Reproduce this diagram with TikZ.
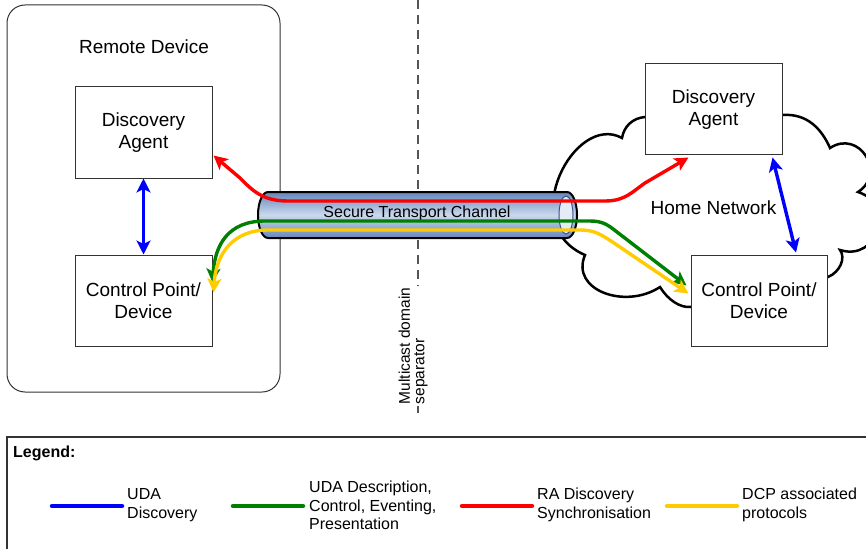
\documentclass[tikz,border=0pt]{standalone}
\usepackage{fontspec}
\setmainfont{Liberation Sans}
\usetikzlibrary{arrows.meta,calc}
\definecolor{pipedark}{HTML}{6586BC}
\definecolor{pipelight}{HTML}{CAD9EC}
\definecolor{pipeinner}{HTML}{E4ECF6}
\definecolor{pipeedge}{HTML}{3D4E8C}
\definecolor{udablue}{HTML}{0000FF}
\definecolor{udagreen}{HTML}{008000}
\definecolor{rared}{HTML}{FF0000}
\definecolor{dcpyellow}{HTML}{FFCC00}
\definecolor{edgegray}{HTML}{333333}
\definecolor{dashgray}{HTML}{555555}
\begin{document}
\begin{tikzpicture}[x=1pt,y=-1pt,
  boxnode/.style={draw=edgegray, line width=1pt, fill=white, minimum width=137pt, minimum height=91pt, align=center, font=\fontsize{19}{22.5}\selectfont, inner sep=0pt},
  lbl/.style={font=\fontsize{19}{22.5}\selectfont, inner sep=0pt},
  flow/.style={line width=3.4pt, {Stealth[length=14pt,width=14pt,inset=3.5pt]}-{Stealth[length=14pt,width=14pt,inset=3.5pt]}},
  legline/.style={line width=4.5pt, line cap=round},
  legtext/.style={font=\fontsize{16}{18.5}\selectfont, align=left, anchor=west, inner sep=0pt}
]
\useasboundingbox (0,0) rectangle (866,548);
\clip (0,0) rectangle (866,548);

% remote device container
\node[draw=edgegray, line width=1pt, rounded corners=18pt, minimum width=273pt, minimum height=387pt, inner sep=0pt] (rd) at (143.5,198.5) {};
\node[lbl] (rdlabel) at (144,47) {Remote Device};

% legend frame
\node[draw=edgegray, line width=1.3pt, minimum width=873pt, minimum height=133pt, inner sep=0pt] (legend) at (443.5,503.5) {};

% multicast separator
\draw[dashgray, line width=1.3pt, dash pattern=on 9pt off 6pt] (418,0) -- (418,413);

% home network cloud
\draw[line width=2.5pt, fill=white] (645,117) .. controls (633,118) and (624,126) .. (622,138)
 .. controls (575,112) and (515,225) .. (585,255)
 .. controls (570,290) and (625,310) .. (660,287)
 .. controls (668,300) and (680,308) .. (691,307)
 -- (828,277)
 .. controls (840,272) and (846,258) .. (840,250)
 .. controls (878,262) and (896,204) .. (858,192)
 .. controls (887,173) and (859,129) .. (830,148)
 .. controls (822,130) and (808,113) .. (782,115)
 -- cycle;

% boxes
\node[boxnode] (da2) at (713.5,109.5) {Discovery\\Agent};
\node[boxnode, minimum width=136pt] (cp2) at (759,300.5) {Control Point/\\Device};
\node[boxnode] (da1) at (143.5,132.5) {Discovery\\Agent};
\node[boxnode] (cp1) at (143.5,300.5) {Control Point/\\Device};
\node[lbl] (home) at (713.5,208) {Home Network};

% secure transport pipe
\path[draw=black, line width=2pt, top color=pipedark, bottom color=pipedark, middle color=pipelight]
  (268,192) -- (567,192) arc[start angle=90, end angle=-90, x radius=10pt, y radius=23pt]
  -- (268,238) arc[start angle=270, end angle=90, x radius=10pt, y radius=23pt] -- cycle;
\draw[pipeedge, line width=1pt, fill=pipeinner] (566,215) ellipse [x radius=7pt, y radius=19pt];
\node[font=\fontsize{16}{19}\selectfont, inner sep=0pt] (pipelabel) at (417,213) {Secure Transport Channel};

% multicast label
\node[rotate=90, fill=white, inner sep=1.5pt, align=left, font=\fontsize{15.5}{14.5}\selectfont] (mcast) at (413,346) {Multicast domain\\separator};

% flow tip coordinates
\coordinate (rtipL) at ($(da1.south east)+(1,-23)$);
\coordinate (rtipR) at ($(da2.south west)+(44,2)$);
\coordinate (gtipL) at ($(cp1.north east)+(0,28)$);
\coordinate (ytipL) at ($(cp1.north east)+(1,38)$);
\coordinate (gtipR) at ($(cp2.north west)+(-4,31)$);
\coordinate (ytipR) at ($(cp2.north west)+(-2,39)$);

% flows
\draw[flow, rared] (rtipL) -- (240,178) .. controls (252,190) and (262,201) .. (288,201)
  -- (605,201) .. controls (625,201) and (632,192) .. (645,183) -- (rtipR);
\draw[flow, udagreen] (gtipL) .. controls (215,245) and (228,221) .. (265,221)
  -- (590,221) .. controls (603,221) and (608,225) .. (617,232) -- (gtipR);
\draw[flow, dcpyellow] (ytipL) .. controls (216,255) and (232,230) .. (268,230)
  -- (580,230) .. controls (594,230) and (600,234) .. (611,241) -- (ytipR);
\draw[flow, udablue] (da1.south) -- (cp1.north);
\draw[flow, udablue] ($(da2.south east)+(-10,2)$) -- ($(cp2.north)+(37,-2)$);

% legend content
\node[legtext, font=\bfseries\fontsize{16}{19}\selectfont] (legtitle) at (13,453) {Legend:};
\node[legtext] (legA) at (127,505) {UDA\\Discovery};
\node[legtext] (legB) at (309,505.5) {UDA Description,\\Control, Eventing,\\Presentation};
\node[legtext] (legC) at (537,505) {RA Discovery\\Synchronisation};
\node[legtext] (legD) at (742,505) {DCP associated\\protocols};
\draw[legline, udablue] ($(legA.west)+(-75,1)$) -- ($(legA.west)+(-5,1)$);
\draw[legline, udagreen] ($(legB.west)+(-76,0.5)$) -- ($(legB.west)+(-6,0.5)$);
\draw[legline, rared] ($(legC.west)+(-75,1)$) -- ($(legC.west)+(-5,1)$);
\draw[legline, dcpyellow] ($(legD.west)+(-75,1)$) -- ($(legD.west)+(-5,1)$);
\end{tikzpicture}
\end{document}
